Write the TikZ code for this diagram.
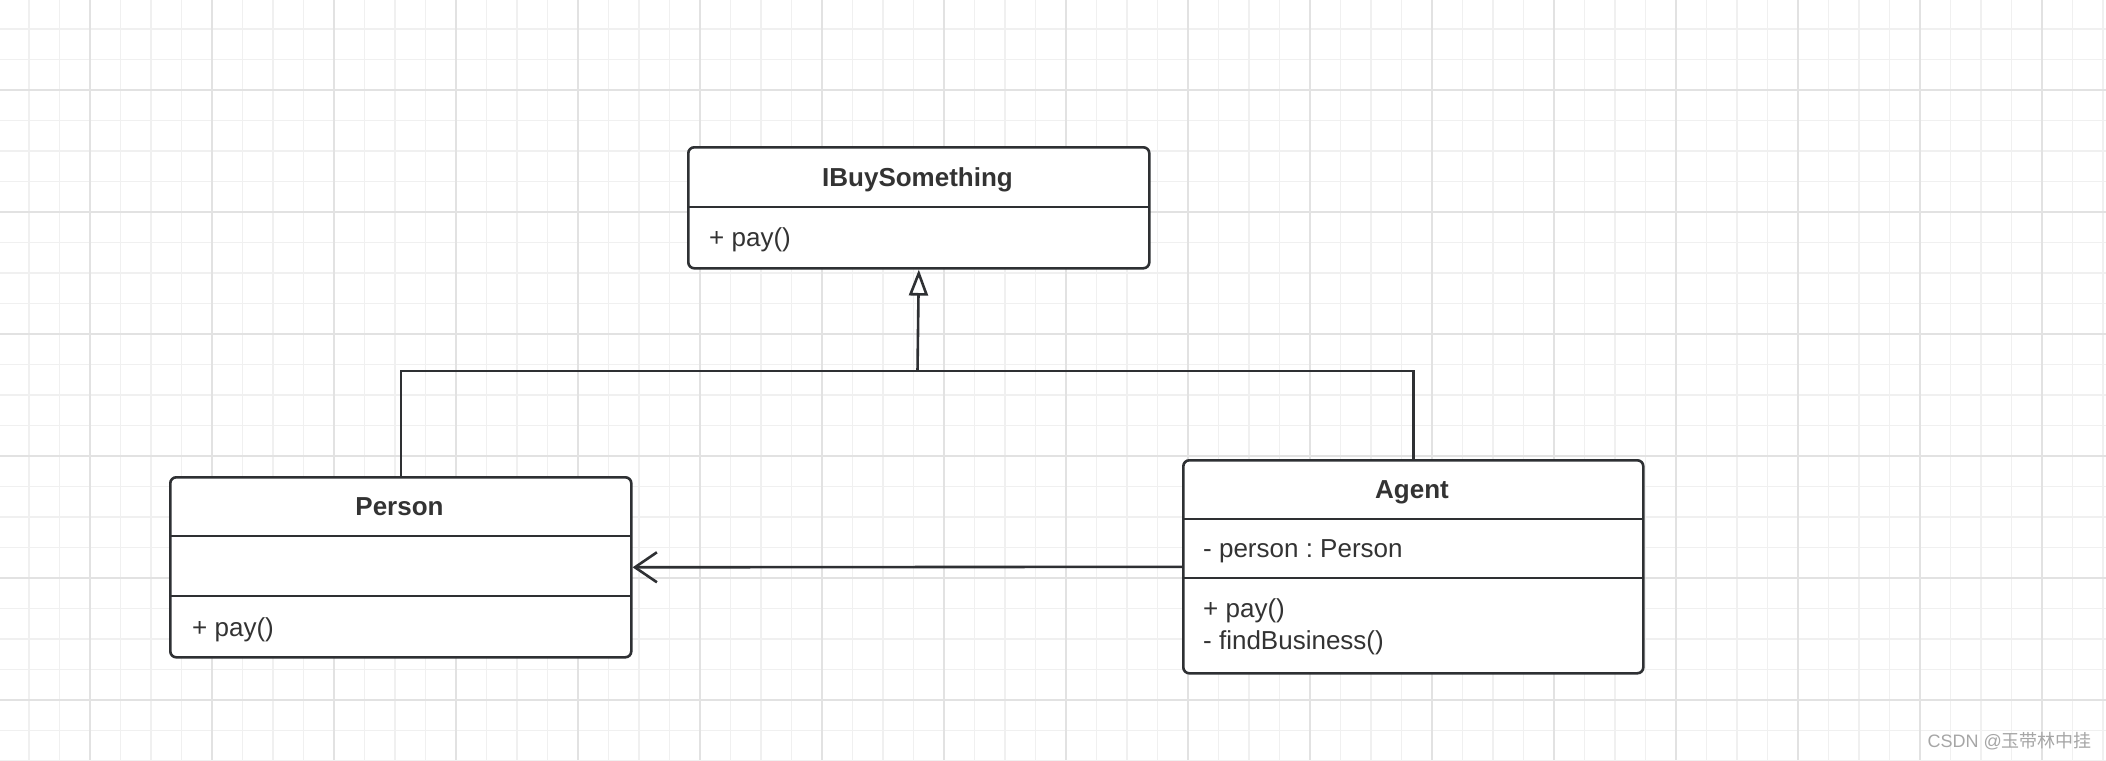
\documentclass[tikz,border=0pt]{standalone}
\usepackage{fontspec}
\setmainfont{Liberation Sans}
\newfontfamily\cjkfont{Noto Sans CJK SC}
\usetikzlibrary{arrows.meta}
\frenchspacing

\definecolor{umlline}{HTML}{2E3033}
\definecolor{umltext}{HTML}{333333}
\definecolor{minorgrid}{HTML}{F0F0F0}
\definecolor{majorgrid}{HTML}{E2E2E2}
\definecolor{markgray}{HTML}{A6A6A6}

\tikzset{
	classbox/.style={draw=umlline, line width=2.6pt, rounded corners=6pt, fill=white, anchor=north west, inner sep=0pt},
	classname/.style={font=\fontsize{26}{30}\selectfont\bfseries, text=umltext, inner sep=0pt, anchor=base},
	member/.style={font=\fontsize{26}{30}\selectfont, text=umltext, anchor=base west, inner sep=0pt},
	divider/.style={draw=umlline, line width=2.6pt},
	link/.style={draw=umlline, line width=2.6pt},
	minorline/.style={draw=minorgrid, line width=1.5pt},
	majorline/.style={draw=majorgrid, line width=2pt},
}

\begin{document}
\begin{tikzpicture}[x=1pt,y=-1pt]
	\useasboundingbox (0,0) rectangle (2106,760);
	\fill[white] (0,0) rectangle (2106,760);

	% grid paper
	\foreach \k in {0,...,69} \draw[minorline] ({-1.5+30.5*\k},0) -- ++(0,760);
	\foreach \k in {0,...,25} \draw[minorline] (0,{-1.5+30.5*\k}) -- ++(2106,0);
	\foreach \k in {0,...,17} \draw[majorline] ({-32+122*\k},0) -- ++(0,760);
	\foreach \k in {0,...,6} \draw[majorline] (0,{-32+122*\k}) -- ++(2106,0);

	% classes
	\node[classbox, minimum width=461pt, minimum height=121pt] (ibuy) at (687,146) {};
	\node[classbox, minimum width=461pt, minimum height=180pt] (person) at (169,476) {};
	\node[classbox, minimum width=460pt, minimum height=213pt] (agent) at (1182,459) {};

	\draw[divider] (687,207) -- (1148,207);
	\draw[divider] (169,536) -- (630,536);
	\draw[divider] (169,596) -- (630,596);
	\draw[divider] (1182,519) -- (1642,519);
	\draw[divider] (1182,578) -- (1642,578);

	\node[classname] (ibuy-name) at (917.5,186) {IBuySomething};
	\node[member] (ibuy-op) at (709,246) {+ pay()};

	\node[classname] (person-name) at (399.5,515) {Person};
	\node[member] (person-op) at (192,636) {+ pay()};

	\node[classname] (agent-name) at (1412,498) {Agent};
	\node[member] (agent-attr) at (1203,557) {- person : Person};
	\node[member] (agent-op1) at (1203,617) {+ pay()};
	\node[member] (agent-op2) at (1203,649) {- findBusiness()};

	% relations
	\coordinate (junction) at (917.5,371);
	\draw[link] (person.north) |- (junction) -| (agent.north);
	\draw[link, -{Triangle[open, length=26pt, width=19pt, fill=white]}] (junction) -- (ibuy.south);
	\draw[link, -{Straight Barb[length=22pt, width=30pt]}] (agent.west) -- (person.east);

	\node[anchor=east, text=markgray, font=\fontsize{18}{20}\selectfont, inner sep=0pt] (mark) at (2092,741) {CSDN @{\cjkfont 玉带林中挂}};
\end{tikzpicture}
\end{document}
